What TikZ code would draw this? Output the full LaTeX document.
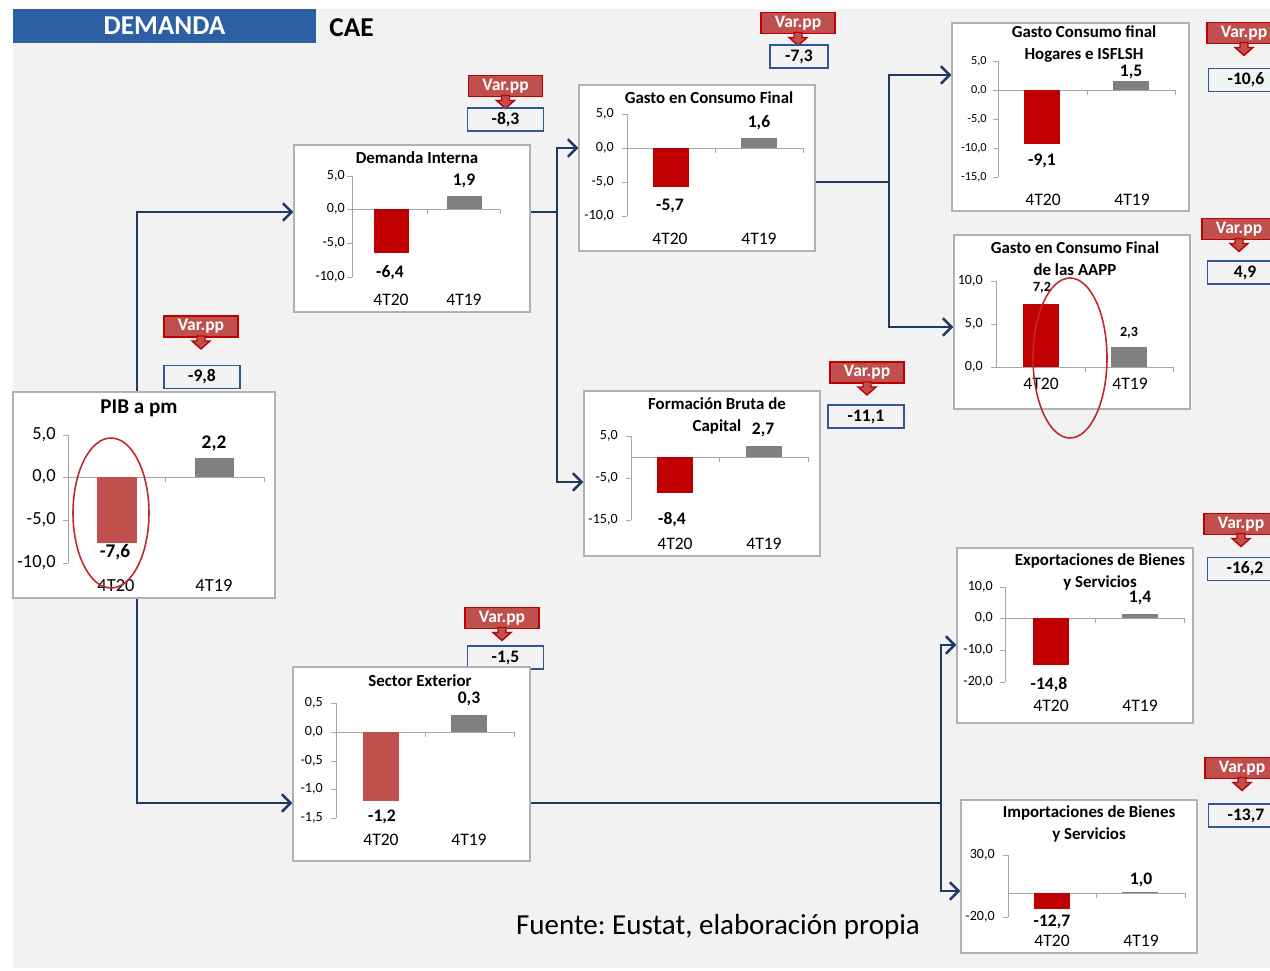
\documentclass[tikz,border=0pt]{standalone}
\usepackage{fontspec}
\setmainfont{Carlito}
\usepackage{tikz}
\usetikzlibrary{arrows.meta, fit}
\frenchspacing

\definecolor{bgGrey}{HTML}{F2F2F2}
\definecolor{bannerBlue}{HTML}{2C5FA3}
\definecolor{barRed}{HTML}{C00000}
\definecolor{barSoft}{HTML}{C0504D}
\definecolor{barGrey}{HTML}{808080}
\definecolor{lineNavy}{HTML}{1F3864}
\definecolor{boxBlue}{HTML}{2F5597}
\definecolor{ringRed}{HTML}{C0282D}

\tikzset{
  banner/.style={fill=bannerBlue, text=white, font=\bfseries\fontsize{15.5}{18}\selectfont,
    minimum width=6.06cm, minimum height=0.68cm, inner sep=0pt},
  chartbox/.style={draw=black!30, fill=white, line width=0.7pt, inner sep=0pt},
  axisline/.style={draw=black!35, line width=0.5pt},
  ctitle/.style={font=\bfseries\fontsize{9.6}{12.5}\selectfont, inner sep=0pt, align=center},
  ylab/.style={font=\fontsize{8}{9}\selectfont, anchor=east, inner sep=0pt},
  vlab/.style={font=\bfseries\fontsize{10}{11}\selectfont, inner sep=0pt},
  xlab/.style={font=\fontsize{10}{11}\selectfont, inner sep=0pt},
  varpp/.style={fill=barSoft, draw=barRed, line width=1.1pt, text=white,
    font=\bfseries\fontsize{10}{11}\selectfont, minimum width=1.48cm, minimum height=0.42cm, inner sep=0pt},
  varppArrow/.style={fill=barSoft, draw=barRed, line width=0.8pt},
  valbox/.style={draw=boxBlue, line width=0.6pt, font=\bfseries\fontsize{10}{11}\selectfont,
    minimum width=1.52cm, minimum height=0.46cm, inner sep=0pt},
  conn/.style={draw=lineNavy, line width=1.4pt},
  arr/.style={conn, -{Straight Barb[length=5pt, width=10pt]}},
  ring/.style={draw=ringRed, line width=0.9pt},
}

\begin{document}
\begin{tikzpicture}[x=0.02cm, y=-0.02cm]
    \useasboundingbox (0,0) rectangle (1270,970);
    \fill[bgGrey] (13,9) rectangle (1270,968);

    % title bar
    \node[banner] (dem) at (164.5,26) {DEMANDA};
    \node[font=\bfseries\fontsize{15.5}{18}\selectfont, anchor=west, inner sep=0pt] (cae) at (329,28) {CAE};

    % Var.pp callouts
    \node[varpp] (vpPib) at (201,326.5) {Var.pp};
    \node[varpp] (vpDi) at (505.5,86) {Var.pp};
    \node[varpp] (vpGcf) at (798,23) {Var.pp};
    \node[varpp] (vpFbc) at (867,372.5) {Var.pp};
    \node[varpp] (vpHog) at (1244,33) {Var.pp};
    \node[varpp] (vpAap) at (1239,229) {Var.pp};
    \node[varpp] (vpSe) at (502,618) {Var.pp};
    \node[varpp] (vpExp) at (1241,524) {Var.pp};
    \node[varpp] (vpImp) at (1242,768) {Var.pp};
    \foreach \v in {vpPib, vpDi, vpGcf, vpFbc, vpHog, vpAap, vpSe, vpExp, vpImp}
        \filldraw[varppArrow, shift={(\v.south)}] (-4,-2) -- (4,-2) -- (4,3) -- (9,3) -- (0,11) -- (-9,3) -- (-4,3) -- cycle;

    % variation values
    \node[valbox] (vPib) at (202,377) {-9,8};
    \node[valbox] (vDi) at (505.5,119.5) {-8,3};
    \node[valbox, minimum width=1.16cm] (vGcf) at (799,56.5) {-7,3};
    \node[valbox] (vFbc) at (866,416.5) {-11,1};
    \node[valbox] (vHog) at (1246,80) {-10,6};
    \node[valbox] (vAap) at (1245,272.5) {4,9};
    \node[valbox] (vSe) at (505.5,657.5) {-1,5};
    \node[valbox] (vExp) at (1245,569) {-16,2};
    \node[valbox] (vImp) at (1246,815.5) {-13,7};

    % PIB a pm
    \node[chartbox, fit={(13,392) (275,598)}] (pib) {};
    \node[ctitle, font=\bfseries\fontsize{12}{14}\selectfont] (pibT) at (139,408) {PIB a pm};
    \draw[axisline] (68,435) -- (68,563);
    \foreach \t in {435,477,520,563} \draw[axisline] (63,\t) -- (68,\t);
    \draw[axisline] (68,477) -- (264,477) (165,477) -- (165,482) (264,477) -- (264,482);
    \fill[barSoft] (97,477) rectangle (137,543);
    \fill[barGrey] (195,458) rectangle (234,477);
    \node[ylab, font=\fontsize{10.5}{12}\selectfont] (pibY1) at (56,435) {5,0};
    \node[ylab, font=\fontsize{10.5}{12}\selectfont] (pibY2) at (56,477) {0,0};
    \node[ylab, font=\fontsize{10.5}{12}\selectfont] (pibY3) at (56,520) {-5,0};
    \node[ylab, font=\fontsize{10.5}{12}\selectfont] (pibY4) at (56,563) {-10,0};
    \node[vlab, font=\bfseries\fontsize{11}{12}\selectfont] (pibV1) at (115,552) {-7,6};
    \node[vlab, font=\bfseries\fontsize{11}{12}\selectfont] (pibV2) at (214,443) {2,2};
    \node[xlab, font=\fontsize{10.5}{12}\selectfont] (pibX1) at (116,586) {4T20};
    \node[xlab, font=\fontsize{10.5}{12}\selectfont] (pibX2) at (214,586) {4T19};
    \draw[ring] (111,513) ellipse [x radius=0.76cm, y radius=1.5cm];

    % Demanda Interna
    \node[chartbox, fit={(294,145) (530,312)}] (di) {};
    \node[ctitle] (diT) at (417,158) {Demanda Interna};
    \draw[axisline] (352,176) -- (352,277);
    \foreach \t in {176,209,243,277} \draw[axisline] (347,\t) -- (352,\t);
    \draw[axisline] (352,209) -- (500,209) (427,209) -- (427,214) (500,209) -- (500,214);
    \fill[barRed] (374,209) rectangle (409,253);
    \fill[barGrey] (447,196) rectangle (482,209);
    \node[ylab] (diY1) at (345,176) {5,0};
    \node[ylab] (diY2) at (345,209) {0,0};
    \node[ylab] (diY3) at (345,243) {-5,0};
    \node[ylab] (diY4) at (345,277) {-10,0};
    \node[vlab] (diV1) at (390,273) {-6,4};
    \node[vlab] (diV2) at (464,181) {1,9};
    \node[xlab] (diX1) at (391,300) {4T20};
    \node[xlab] (diX2) at (464,300) {4T19};

    % Gasto en Consumo Final
    \node[chartbox, fit={(579,85) (815,251)}] (gcf) {};
    \node[ctitle] (gcfT) at (709,98) {Gasto en Consumo Final};
    \draw[axisline] (627,114) -- (627,216);
    \foreach \t in {114,148,182,216} \draw[axisline] (622,\t) -- (627,\t);
    \draw[axisline] (627,148) -- (803,148) (715,148) -- (715,153) (803,148) -- (803,153);
    \fill[barRed] (653,148) rectangle (689,187);
    \fill[barGrey] (741,138) rectangle (777,148);
    \node[ylab] (gcfY1) at (614,114) {5,0};
    \node[ylab] (gcfY2) at (614,148) {0,0};
    \node[ylab] (gcfY3) at (614,182) {-5,0};
    \node[ylab] (gcfY4) at (614,216) {-10,0};
    \node[vlab] (gcfV1) at (670,206) {-5,7};
    \node[vlab] (gcfV2) at (759,123) {1,6};
    \node[xlab] (gcfX1) at (670,239) {4T20};
    \node[xlab] (gcfX2) at (759,239) {4T19};

    % Formacion Bruta de Capital
    \node[chartbox, fit={(584,391) (820,556)}] (fbc) {};
    \node[ctitle] (fbcT) at (717,415.5) {Formación Bruta de\\Capital};
    \draw[axisline] (631,436) -- (631,520);
    \foreach \t in {436,478,520} \draw[axisline] (626,\t) -- (631,\t);
    \draw[axisline] (631,457) -- (808,457) (719,457) -- (719,462) (808,457) -- (808,462);
    \fill[barRed] (657,457) rectangle (693,493);
    \fill[barGrey] (746,446) rectangle (782,457);
    \node[ylab] (fbcY1) at (618,436) {5,0};
    \node[ylab] (fbcY2) at (618,478) {-5,0};
    \node[ylab] (fbcY3) at (618,520) {-15,0};
    \node[vlab] (fbcV1) at (672,520) {-8,4};
    \node[vlab] (fbcV2) at (763,430) {2,7};
    \node[xlab] (fbcX1) at (675,544) {4T20};
    \node[xlab] (fbcX2) at (764,544) {4T19};

    % Gasto Consumo final Hogares e ISFLSH
    \node[chartbox, fit={(952,23) (1189,211)}] (hog) {};
    \node[ctitle] (hogT) at (1084,44) {Gasto Consumo final\\Hogares e ISFLSH};
    \draw[axisline] (998,61) -- (998,177);
    \foreach \t in {61,90,119,148,177} \draw[axisline] (993,\t) -- (998,\t);
    \draw[axisline] (998,90) -- (1175,90) (1087,90) -- (1087,95) (1175,90) -- (1175,95);
    \fill[barRed] (1024,90) rectangle (1060,144);
    \fill[barGrey] (1113,81) rectangle (1149,90);
    \node[ylab, font=\fontsize{7}{8}\selectfont] (hogY1) at (987,61) {5,0};
    \node[ylab, font=\fontsize{7}{8}\selectfont] (hogY2) at (987,90) {0,0};
    \node[ylab, font=\fontsize{7}{8}\selectfont] (hogY3) at (987,119) {-5,0};
    \node[ylab, font=\fontsize{7}{8}\selectfont] (hogY4) at (987,148) {-10,0};
    \node[ylab, font=\fontsize{7}{8}\selectfont] (hogY5) at (987,177) {-15,0};
    \node[vlab] (hogV1) at (1042,161) {-9,1};
    \node[vlab, anchor=south] (hogV2) at (1131,79) {1,5};
    \node[xlab] (hogX1) at (1043,200) {4T20};
    \node[xlab] (hogX2) at (1132,200) {4T19};

    % Gasto en Consumo Final de las AAPP
    \node[chartbox, fit={(954,235) (1190,409)}] (aap) {};
    \node[ctitle] (aapT) at (1075,259) {Gasto en Consumo Final\\de las AAPP};
    \draw[axisline] (996,281) -- (996,367);
    \foreach \t in {281,324,367} \draw[axisline] (991,\t) -- (996,\t);
    \draw[axisline] (996,367) -- (1173,367) (1085,367) -- (1085,372) (1173,367) -- (1173,372);
    \fill[barRed] (1023,304) rectangle (1059,367);
    \fill[barGrey] (1111,347) rectangle (1147,367);
    \node[ylab] (aapY1) at (983,281) {10,0};
    \node[ylab] (aapY2) at (983,324) {5,0};
    \node[ylab] (aapY3) at (983,367) {0,0};
    \node[vlab, font=\bfseries\fontsize{8}{9}\selectfont] (aapV1) at (1042,288) {7,2};
    \node[vlab, font=\bfseries\fontsize{8}{9}\selectfont] (aapV2) at (1129,333) {2,3};
    \node[xlab] (aapX1) at (1041,384) {4T20};
    \node[xlab] (aapX2) at (1130,384) {4T19};
    \draw[ring] (1070,358) ellipse [x radius=0.74cm, y radius=1.6cm];

    % Sector Exterior
    \node[chartbox, fit={(293,667) (530,861)}] (se) {};
    \node[ctitle] (seT) at (420,681) {Sector Exterior};
    \draw[axisline] (336,703) -- (336,818);
    \foreach \t in {703,732,761,789,818} \draw[axisline] (331,\t) -- (336,\t);
    \draw[axisline] (336,732) -- (514,732) (425,732) -- (425,737) (514,732) -- (514,737);
    \fill[barSoft] (363,732) rectangle (399,801);
    \fill[barGrey] (451,715) rectangle (487,732);
    \node[ylab] (seY1) at (323,703) {0,5};
    \node[ylab] (seY2) at (323,732) {0,0};
    \node[ylab] (seY3) at (323,761) {-0,5};
    \node[ylab] (seY4) at (323,789) {-1,0};
    \node[ylab] (seY5) at (323,818) {-1,5};
    \node[vlab] (seV1) at (382,817) {-1,2};
    \node[vlab] (seV2) at (469,699) {0,3};
    \node[xlab] (seX1) at (381,840) {4T20};
    \node[xlab] (seX2) at (469,840) {4T19};

    % Exportaciones de Bienes y Servicios
    \node[chartbox, fit={(957,548) (1193,723)}] (exp) {};
    \node[ctitle] (expT) at (1100,572) {Exportaciones de Bienes\\y Servicios};
    \draw[axisline] (1005,587) -- (1005,682);
    \foreach \t in {587,618,650,682} \draw[axisline] (1000,\t) -- (1005,\t);
    \draw[axisline] (1005,618) -- (1184,618) (1095,618) -- (1095,623) (1184,618) -- (1184,623);
    \fill[barRed] (1033,618) rectangle (1069,665);
    \fill[barGrey] (1122,614) rectangle (1158,618);
    \node[ylab] (expY1) at (993,587) {10,0};
    \node[ylab] (expY2) at (993,618) {0,0};
    \node[ylab] (expY3) at (993,650) {-10,0};
    \node[ylab] (expY4) at (993,682) {-20,0};
    \node[vlab] (expV1) at (1049,685) {-14,8};
    \node[vlab] (expV2) at (1140,598) {1,4};
    \node[xlab] (expX1) at (1051,706) {4T20};
    \node[xlab] (expX2) at (1140,706) {4T19};

    % Importaciones de Bienes y Servicios
    \node[chartbox, fit={(961,800) (1197,953)}] (imp) {};
    \node[ctitle] (impT) at (1089,824) {Importaciones de Bienes\\y Servicios};
    \draw[axisline] (1008,855) -- (1008,917);
    \foreach \t in {855,917} \draw[axisline] (1003,\t) -- (1008,\t);
    \draw[axisline] (1008,893) -- (1185,893) (1096,893) -- (1096,898) (1185,893) -- (1185,898);
    \fill[barRed] (1034,893) rectangle (1070,909);
    \fill[barGrey] (1122,891.5) rectangle (1158,893);
    \node[ylab] (impY1) at (995,855) {30,0};
    \node[ylab] (impY2) at (995,917) {-20,0};
    \node[vlab] (impV1) at (1052,922) {-12,7};
    \node[vlab] (impV2) at (1141,880) {1,0};
    \node[xlab] (impX1) at (1052,941) {4T20};
    \node[xlab] (impX2) at (1141,941) {4T19};

    % connectors
    \coordinate (j1) at (557,212);
    \coordinate (j2) at (889,182);
    \coordinate (j3) at (941,803);
    \draw[arr] (pib.north -| 137,0) |- (di.west |- 0,212);
    \draw[arr] (pib.south -| 137,0) |- (se.west |- 0,803);
    \draw[arr] (di.east |- 0,212) -- (j1) |- (gcf.west |- 0,148);
    \draw[arr] (j1) |- (fbc.west |- 0,482);
    \draw[arr] (gcf.east |- 0,182) -- (j2) |- (hog.west |- 0,75);
    \draw[arr] (j2) |- (aap.west |- 0,327);
    \draw[arr] (se.east |- 0,803) -- (j3) |- (exp.west |- 0,645);
    \draw[arr] (j3) |- (imp.west |- 0,891);

    % source
    \node[font=\fontsize{16.5}{20}\selectfont, inner sep=0pt] (src) at (718,927) {Fuente: Eustat, elaboración propia};
\end{tikzpicture}
\end{document}
